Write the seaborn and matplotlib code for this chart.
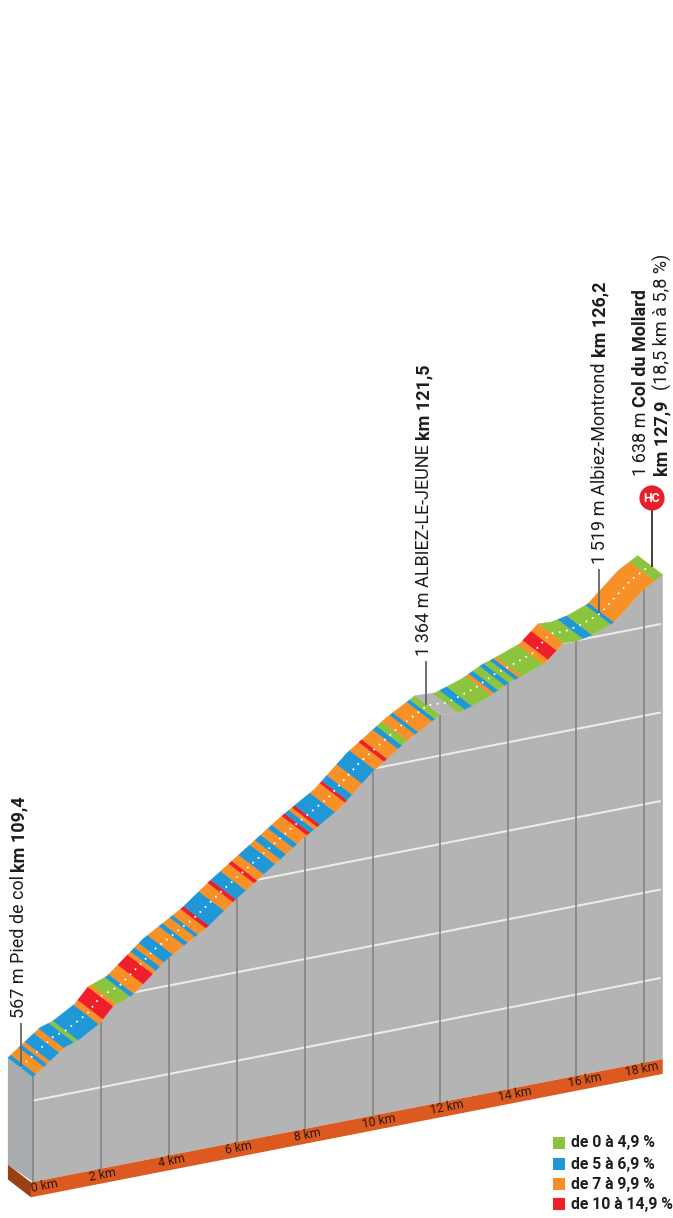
import numpy as np
import matplotlib
matplotlib.use("Agg")
import matplotlib.pyplot as plt
from matplotlib.patches import Rectangle, Circle
from matplotlib.transforms import Affine2D
import seaborn as sns

# ---------- data ----------
profile_km = [0, 0.94, 1.33, 1.97, 2.36, 2.92, 3.98, 5.13, 5.95, 6.54, 8.01, 9.04, 9.99,
              10.72, 11.1, 11.99, 12.58, 13.37, 13.99, 14.29, 15.08, 15.61, 16.02, 16.47,
              17.08, 17.97, 18.55]
profile_alt = [567, 634, 646, 682, 723, 743, 828, 894, 955, 995, 1095, 1157, 1241,
               1290, 1316, 1365, 1362, 1387, 1417, 1426, 1454, 1500, 1498, 1507,
               1529, 1606, 1638]
seg_edges = [0, .09, .32, .41, .50, .77, .91, 1.21, 1.33, 1.94, 2.06, 2.36, 2.47, 2.86, 2.97,
             3.24, 3.53, 3.62, 3.74, 3.86, 4.12, 4.45, 4.56, 4.77, 4.86, 5.09, 5.18, 5.63,
             5.89, 5.98, 6.27, 6.51, 6.60, 6.80, 7.13, 7.28, 7.45, 7.66, 7.78, 8.07, 8.16,
             8.28, 8.37, 8.45, 8.90, 9.19, 9.25, 9.40, 9.69, 10.07, 10.34, 10.43, 10.75,
             10.87, 11.02, 11.25, 11.34, 11.75, 11.84, 11.99, 12.52, 12.72, 12.93, 13.49,
             13.58, 13.70, 13.90, 14.02, 14.20, 14.31, 14.40, 15.02, 15.17, 15.42, 15.64,
             16.2, 16.47, 17.02, 17.11, 18.32, 18.55]
seg_class = list("BOBOBOBGBORO" "GBOROBOBOBOBOR" "BORBORO" "BOBOBOR" "BORBORBOBOROBGOBOBG" "XGBGOBGBGBOGOROGBGBOG")
km_ticks = [0, 2, 4, 6, 8, 10, 12, 14, 16, 18]
km_labels = ["0 km", "2 km", "4 km", "6 km", "8 km", "10 km", "12 km", "14 km", "16 km", "18 km"]
grid_alts = [500, 750, 1000, 1250, 1500]
legend_labels = ["de 0 à 4,9 %", "de 5 à 6,9 %", "de 7 à 9,9 %", "de 10 à 14,9 %"]
legend_keys = ["G", "B", "O", "R"]

colors = {"G": "#8cc43e", "B": "#2097d6", "O": "#f79027", "R": "#ee1f2b", "X": "#b4b4b4"}
BASE = 270
STRIP = 42
DK, DA = -0.74, 68   # depth of the ribbon, as km/altitude

sns.set_theme(style="white")
plt.rcParams["font.family"] = ["Roboto", "DejaVu Sans"]

fig = plt.figure(figsize=(6.73, 12.18), dpi=100)
ax = fig.add_axes([0, 0, 1, 1])
ax.set_axis_off()
proj = Affine2D.from_values(33.95, -6.63, 0, -0.354, 33, 1277.58) + ax.transData

km = np.array(profile_km, float)
alt = np.array(profile_alt, float)
end = km[-1]

# left wall
ax.fill([0, DK, DK, 0], [567, 567 + DA, BASE + DA - 5, BASE], color="#a8acae", lw=0, transform=proj, zorder=1)
# front wall
ax.fill(np.r_[km, end, 0], np.r_[alt, BASE, BASE], color="#b4b4b4", lw=0, transform=proj, zorder=1)
# base strip
ax.fill([-0.06, end, end, -0.06], [BASE, BASE, BASE - STRIP, BASE - STRIP], color="#dc5a1f", lw=0,
        transform=proj, zorder=2)
ax.fill([DK, -0.06, -0.06, DK], [BASE + DA - 5, BASE, BASE - STRIP, BASE + DA - 5 - STRIP], color="#9a3f14",
        lw=0, transform=proj, zorder=2)

# white altitude lines
for a in grid_alts:
    start = 0.0
    if a > alt[0]:
        i = int(np.argmax(alt >= a))
        start = km[i - 1] + (a - alt[i - 1]) / (alt[i] - alt[i - 1]) * (km[i] - km[i - 1])
    sns.lineplot(x=[start, 18.47], y=[a, a], ax=ax, color="#ececec", lw=1.5, transform=proj, zorder=3,
                 estimator=None, sort=False)

# km lines
for k in km_ticks:
    sns.lineplot(x=[k, k], y=[np.interp(k, km, alt), BASE], ax=ax, color="#858585", lw=1.2, transform=proj,
                 zorder=3, estimator=None, sort=False)

# ribbon
for a, b, c in zip(seg_edges[:-1], seg_edges[1:], seg_class):
    inner = km[(km > a) & (km < b)]
    ks = np.r_[a, inner, b]
    al = np.interp(ks, km, alt)
    xs = np.r_[ks, ks[::-1] + DK]
    ys = np.r_[al, al[::-1] + DA]
    ax.fill(xs, ys, facecolor=colors[c], edgecolor=colors[c], lw=0.3, transform=proj, zorder=4)

# white dotted axis
sns.lineplot(x=km + DK / 2, y=alt + DA / 2, ax=ax, color="white", lw=1.3, linestyle=(0, (1, 3.0)),
             transform=proj, zorder=5, estimator=None, sort=False)

ax.set_xlim(0, 673)
ax.set_ylim(1218, 0)

# km labels
label_shift = [12, 2, 3, 2, 3, 6, 7, 7, 9, -2]
for k, t, s in zip(km_ticks, km_labels, label_shift):
    x = 33 + 33.95 * k + s
    y = 1190.5 - 6.63 * k - s * 0.195
    ax.text(x, y - 2, t, fontsize=8.8, color="#2a1a12", rotation=11, rotation_mode="anchor",
            ha="center", va="center", zorder=6)

# leader lines
for x, y0, y1, c in [(21, 1023, 1067, "#666666"), (426, 661, 705, "#666666"), (599, 569, 613, "#666666"),
                     (652, 510, 567, "#333333")]:
    ax.plot([x, x], [y0, y1], color=c, lw=1.3, zorder=6, solid_capstyle="butt")

# vertical texts
def vt(x, y, s, weight="normal"):
    ax.text(x, y, s, rotation=90, ha="center", va="bottom", fontsize=13, color="#1d1d1b",
            fontweight=weight, zorder=7, rotation_mode="default")

vt(19, 1018, "567 m Pied de col")
vt(19, 872, "km 109,4", "bold")
vt(424, 656, "1\u2009364 m ALBIEZ-LE-JEUNE")
vt(424, 440, "km 121,5", "bold")
vt(600, 564, "1\u2009519 m Albiez-Montrond")
vt(600, 357, "km 126,2", "bold")
vt(641, 476, "1\u2009638 m")
vt(641, 407, "Col du Mollard", "bold")
vt(662, 476, "km 127,9", "bold")
vt(662, 390, "(18,5 km à 5,8 %)")

# HC badge
ax.add_patch(Circle((652, 498), 12.6, color="#e8202a", lw=0, zorder=7))
ax.text(652, 498.5, "HC", color="white", fontsize=8.8, fontweight="bold", ha="center", va="center", zorder=8)

# legend
for yc, key, t in zip([1143, 1164, 1184, 1204], legend_keys, legend_labels):
    ax.add_patch(Rectangle((553, yc - 6), 12, 12, color=colors[key], lw=0, zorder=7))
    ax.text(571, yc, t, fontweight="bold", fontsize=11.3, color="#1d1d1b",
            ha="left", va="center", zorder=7)

fig.savefig("out.png", dpi=100)
